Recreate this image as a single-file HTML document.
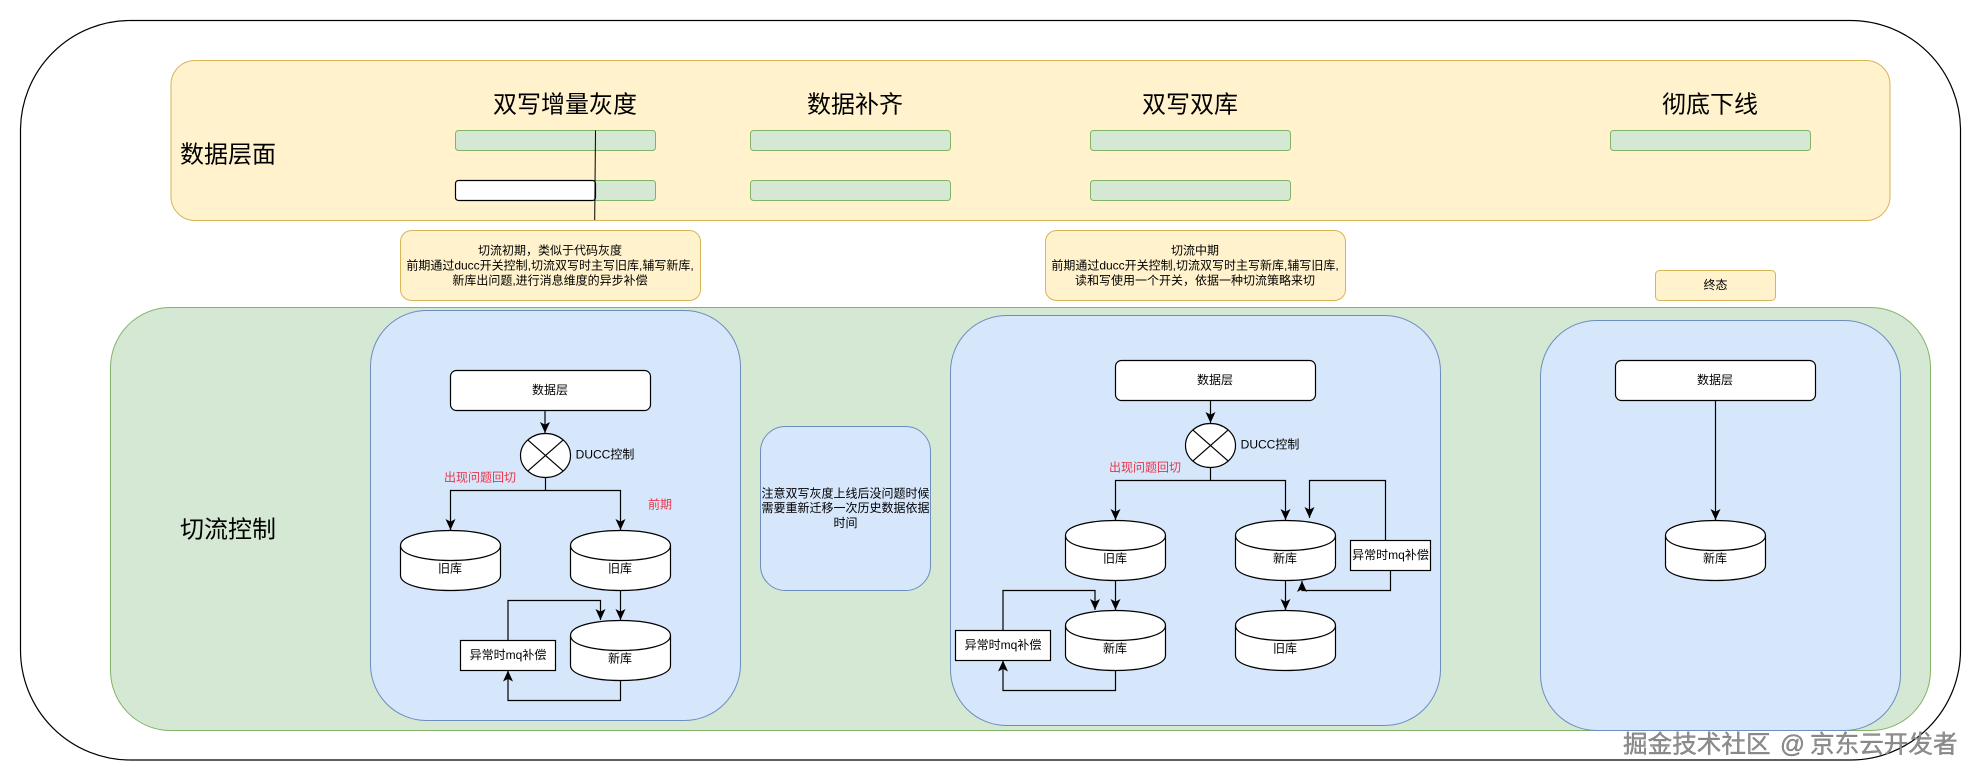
<!DOCTYPE html>
<html lang="zh">
<head>
<meta charset="utf-8">
<title>切流方案</title>
<style>
html,body{margin:0;padding:0;background:#fff;width:1981px;height:781px;overflow:hidden}
svg{display:block}
text{font-family:"Liberation Sans","Noto Sans CJK SC",sans-serif;fill:#000;dominant-baseline:central;text-anchor:middle}
.t12{font-size:12px}
.t24{font-size:24px}
.red{fill:#e8354a;font-size:12px}
.s{stroke:#000;stroke-width:1.2;fill:none}
.w{stroke:#000;stroke-width:1.2;fill:#fff}
.y{fill:#fff2cc;stroke:#d6b656;stroke-width:1}
.g{fill:#d5e8d4;stroke:#82b366;stroke-width:1}
.b{fill:#d6e6fb;stroke:#6c8ebf;stroke-width:1}
.a{stroke:#000;stroke-width:1.2;fill:none;marker-end:url(#ar)}
.wm{font-size:24.6px;fill:#8f8f8f;stroke:#555;stroke-width:.25;text-anchor:start}
</style>
</head>
<body>
<svg width="1981" height="781" viewBox="0 0 1981 781" xmlns="http://www.w3.org/2000/svg">
<defs>
<marker id="ar" markerUnits="userSpaceOnUse" markerWidth="12" markerHeight="12" refX="11" refY="6" orient="auto">
<path d="M0,1 L11,6 L0,11 L2.6,6 Z" fill="#000"/>
</marker>
</defs>
<rect width="1981" height="781" fill="#fff"/>
<rect x="20.5" y="20.5" width="1940" height="739.5" rx="110" ry="110" fill="#fff" stroke="#000" stroke-width="1.2"/>

<!-- data layer band -->
<rect class="y" x="171" y="60.5" width="1719" height="160" rx="24" ry="24"/>
<text class="t24" x="565" y="105">双写增量灰度</text>
<text class="t24" x="855" y="105">数据补齐</text>
<text class="t24" x="1190" y="105">双写双库</text>
<text class="t24" x="1710" y="105">彻底下线</text>
<text class="t24" x="228" y="155">数据层面</text>

<rect class="g" x="455.5" y="130.5" width="200" height="20" rx="3"/>
<rect class="g" x="750.5" y="130.5" width="200" height="20" rx="3"/>
<rect class="g" x="1090.5" y="130.5" width="200" height="20" rx="3"/>
<rect class="g" x="1610.5" y="130.5" width="200" height="20" rx="3"/>
<rect class="g" x="455.5" y="180.5" width="200" height="20" rx="3"/>
<rect class="g" x="750.5" y="180.5" width="200" height="20" rx="3"/>
<rect class="g" x="1090.5" y="180.5" width="200" height="20" rx="3"/>
<rect x="455.5" y="180.5" width="140" height="20" rx="3" fill="#fff" stroke="#000" stroke-width="1.2"/>
<path d="M595.5,130.5 L594.7,220" stroke="#000" stroke-width="1" fill="none"/>

<!-- notes -->
<rect class="y" x="400.5" y="230.5" width="300" height="70" rx="11"/>
<text class="t12" x="550" y="250.5">切流初期，类似于代码灰度</text>
<text class="t12" x="550" y="265.5">前期通过ducc开关控制,切流双写时主写旧库,辅写新库,</text>
<text class="t12" x="550" y="280.5">新库出问题,进行消息维度的异步补偿</text>

<rect class="y" x="1045.5" y="230.5" width="300" height="70" rx="11"/>
<text class="t12" x="1195" y="250.5">切流中期</text>
<text class="t12" x="1195" y="265.5">前期通过ducc开关控制,切流双写时主写新库,辅写旧库,</text>
<text class="t12" x="1195" y="280.5">读和写使用一个开关，依据一种切流策略来切</text>

<rect class="y" x="1655.5" y="270.5" width="120" height="30" rx="4"/>
<text class="t12" x="1715.5" y="285">终态</text>

<!-- traffic control panel -->
<rect class="g" x="110.5" y="307.5" width="1820" height="423" rx="60" ry="60"/>
<text class="t24" x="228" y="530">切流控制</text>

<!-- panel 1 -->
<rect class="b" x="370.5" y="310.5" width="370" height="410" rx="56" ry="56"/>
<rect class="w" x="450.5" y="370.5" width="200" height="40" rx="6"/>
<text class="t12" x="550" y="390">数据层</text>
<path class="a" d="M545,410.5 V433"/>
<ellipse class="w" cx="545.5" cy="455.5" rx="25" ry="22"/>
<path class="s" d="M527.8,439.9 L563.2,471.1 M563.2,439.9 L527.8,471.1"/>
<text class="t12" x="605" y="454.5">DUCC控制</text>
<text class="red" x="480" y="477.5">出现问题回切</text>
<text class="red" x="660" y="504.5">前期</text>
<path class="s" d="M545.5,477.5 V490.5"/>
<path class="a" d="M545.5,490.5 H450.5 V530"/>
<path class="a" d="M545.5,490.5 H620.5 V530"/>

<path class="w" d="M400.5,545.5 C400.5,525.5 500.5,525.5 500.5,545.5 V575.5 C500.5,595.5 400.5,595.5 400.5,575.5 Z"/>
<path class="s" d="M400.5,545.5 C400.5,565.5 500.5,565.5 500.5,545.5"/>
<text class="t12" x="450" y="568.5">旧库</text>

<path class="w" d="M570.5,545.5 C570.5,525.5 670.5,525.5 670.5,545.5 V575.5 C670.5,595.5 570.5,595.5 570.5,575.5 Z"/>
<path class="s" d="M570.5,545.5 C570.5,565.5 670.5,565.5 670.5,545.5"/>
<text class="t12" x="620" y="568.5">旧库</text>

<path class="a" d="M620.5,590 V620"/>
<path class="w" d="M570.5,635.5 C570.5,615.5 670.5,615.5 670.5,635.5 V665.5 C670.5,685.5 570.5,685.5 570.5,665.5 Z"/>
<path class="s" d="M570.5,635.5 C570.5,655.5 670.5,655.5 670.5,635.5"/>
<text class="t12" x="620" y="658.5">新库</text>

<rect class="w" x="460.5" y="640.5" width="95" height="30"/>
<text class="t12" x="508" y="655">异常时mq补偿</text>
<path class="a" d="M508,640.5 V600.5 H600.5 V620"/>
<path class="a" d="M620.5,680 V700.5 H508 V670.5"/>

<!-- middle note -->
<rect class="b" x="760.5" y="426.5" width="170" height="164" rx="25" ry="25"/>
<text class="t12" x="845.5" y="493.5">注意双写灰度上线后没问题时候</text>
<text class="t12" x="845.5" y="508">需要重新迁移一次历史数据依据</text>
<text class="t12" x="845.5" y="523">时间</text>

<!-- panel 2 -->
<rect class="b" x="950.5" y="315.5" width="490" height="410" rx="56" ry="56"/>
<rect class="w" x="1115.5" y="360.5" width="200" height="40" rx="6"/>
<text class="t12" x="1215" y="380">数据层</text>
<path class="a" d="M1210.5,400.5 V423"/>
<ellipse class="w" cx="1210.5" cy="445.5" rx="25" ry="22"/>
<path class="s" d="M1192.8,429.9 L1228.2,461.1 M1228.2,429.9 L1192.8,461.1"/>
<text class="t12" x="1270" y="444.5">DUCC控制</text>
<text class="red" x="1145" y="467.5">出现问题回切</text>
<path class="s" d="M1210.5,467.5 V480.5"/>
<path class="a" d="M1210.5,480.5 H1115.5 V520"/>
<path class="a" d="M1210.5,480.5 H1285.5 V520"/>

<path class="w" d="M1065.5,535.5 C1065.5,515.5 1165.5,515.5 1165.5,535.5 V565.5 C1165.5,585.5 1065.5,585.5 1065.5,565.5 Z"/>
<path class="s" d="M1065.5,535.5 C1065.5,555.5 1165.5,555.5 1165.5,535.5"/>
<text class="t12" x="1115" y="558.5">旧库</text>

<path class="w" d="M1235.5,535.5 C1235.5,515.5 1335.5,515.5 1335.5,535.5 V565.5 C1335.5,585.5 1235.5,585.5 1235.5,565.5 Z"/>
<path class="s" d="M1235.5,535.5 C1235.5,555.5 1335.5,555.5 1335.5,535.5"/>
<text class="t12" x="1285" y="558.5">新库</text>

<path class="a" d="M1115.5,580 V610"/>
<path class="a" d="M1285.5,580 V610"/>

<path class="w" d="M1065.5,625.5 C1065.5,605.5 1165.5,605.5 1165.5,625.5 V655.5 C1165.5,675.5 1065.5,675.5 1065.5,655.5 Z"/>
<path class="s" d="M1065.5,625.5 C1065.5,645.5 1165.5,645.5 1165.5,625.5"/>
<text class="t12" x="1115" y="648.5">新库</text>

<path class="w" d="M1235.5,625.5 C1235.5,605.5 1335.5,605.5 1335.5,625.5 V655.5 C1335.5,675.5 1235.5,675.5 1235.5,655.5 Z"/>
<path class="s" d="M1235.5,625.5 C1235.5,645.5 1335.5,645.5 1335.5,625.5"/>
<text class="t12" x="1285" y="648.5">旧库</text>

<rect class="w" x="955.5" y="630.5" width="95" height="30"/>
<text class="t12" x="1003" y="645">异常时mq补偿</text>
<path class="a" d="M1003,630.5 V590.5 H1095 V610"/>
<path class="a" d="M1115.5,670 V690.5 H1003 V660.5"/>

<rect class="w" x="1350.5" y="540.5" width="80" height="30"/>
<text class="t12" x="1390.5" y="555">异常时mq补偿</text>
<path class="a" d="M1385.5,540.5 V480.5 H1309.5 V518"/>
<path class="a" d="M1390.5,570.5 V590.5 H1302 V581"/>

<!-- panel 3 -->
<rect class="b" x="1540.5" y="320.5" width="360" height="410" rx="56" ry="56"/>
<rect class="w" x="1615.5" y="360.5" width="200" height="40" rx="6"/>
<text class="t12" x="1715" y="380">数据层</text>
<path class="a" d="M1715.5,400.5 V520"/>
<path class="w" d="M1665.5,535.5 C1665.5,515.5 1765.5,515.5 1765.5,535.5 V565.5 C1765.5,585.5 1665.5,585.5 1665.5,565.5 Z"/>
<path class="s" d="M1665.5,535.5 C1665.5,555.5 1765.5,555.5 1765.5,535.5"/>
<text class="t12" x="1715" y="558.5">新库</text>

<!-- watermark -->
<text class="wm" x="1623" y="745">掘金技术社区</text>
<text class="wm" x="1780" y="745">@</text>
<text class="wm" x="1810" y="745">京东云开发者</text>
</svg>
</body>
</html>
